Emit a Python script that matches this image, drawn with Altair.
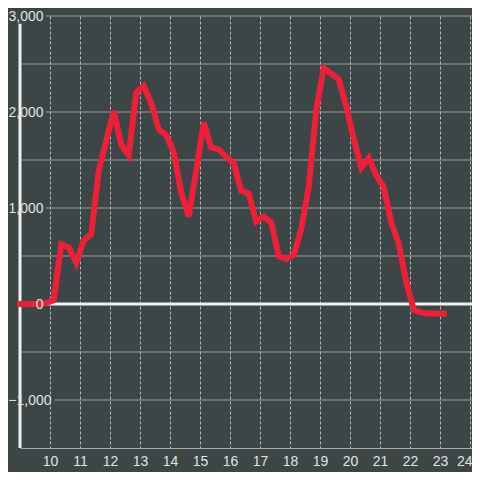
import altair as alt
import pandas as pd

# ---- data ----
hours = [9.0, 9.125, 9.375, 9.625, 9.875,
         10.125, 10.375, 10.625, 10.875,
         11.125, 11.375, 11.625, 11.875,
         12.125, 12.375, 12.625, 12.875,
         13.125, 13.375, 13.625, 13.875,
         14.125, 14.375, 14.625, 14.875,
         15.125, 15.375, 15.625, 15.875,
         16.125, 16.375, 16.625, 16.875,
         17.125, 17.375, 17.625, 17.875,
         18.125, 18.375, 18.625, 18.875,
         19.125, 19.375, 19.625, 19.875,
         20.125, 20.375, 20.625, 20.875,
         21.125, 21.375, 21.625, 21.875,
         22.125, 22.375, 22.625, 22.875,
         23.125]
values = [0, 0, 0, 0, 10,
          40, 620, 590, 430,
          660, 730, 1390, 1700,
          2010, 1660, 1550, 2200,
          2270, 2090, 1820, 1760,
          1580, 1160, 910, 1390,
          1890, 1630, 1610, 1530,
          1470, 1180, 1150, 860,
          910, 850, 500, 470,
          510, 780, 1220, 2020,
          2460, 2400, 2340, 2060,
          1720, 1420, 1520, 1340,
          1220, 850, 630, 230,
          -60, -90, -100, -100,
          -100]

x_ticks = list(range(10, 25))
y_label_values = [-1000, 0, 1000, 2000, 3000]
grid_values = [-1000, 1000, 2000, 3000, -500, 500, 1500, 2500]
x_domain = [9.0, 24.0667]
y_domain = [-1500, 3000]

# ---- styles ----
BG = "#3d4646"
RED = "#ee1f36"
WHITE = "#eef1ee"
GRID = "#9c9c9c"
DASH = "#b8b8b8"
TEXT = "#e2e2e2"
FONT = "Liberation Sans"
grid_starts = [10.15, 9.87, 9.87, 9.87, 9.07, 9.07, 9.07, 9.07]
axis_top = 2920

df = pd.DataFrame({"hour": hours, "value": values})
grid_df = pd.DataFrame({
    "y": grid_values,
    "x0": grid_starts,
    "x1": [x_domain[1]] * len(grid_values),
})
zero_df = pd.DataFrame({"y": [0], "x0": [x_domain[0]], "x1": [x_domain[1]]})
yaxis_df = pd.DataFrame({"x": [x_domain[0]], "y0": [y_domain[0]], "y1": [axis_top]})

xs = alt.Scale(domain=x_domain, nice=False, zero=False)
ys = alt.Scale(domain=y_domain, nice=False, zero=False)

x_axis = alt.Axis(values=x_ticks, grid=True, gridDash=[3, 2],
                  gridColor=DASH, gridWidth=1,
                  domain=True, domainColor="#a8a8a8", domainWidth=1,
                  ticks=False, labelPadding=6, labelColor=TEXT,
                  labelFont=FONT, labelFontSize=14, labelFlush=False,
                  labelAlign={"condition": {"test": "datum.value >= 24", "value": "right"},
                              "value": "center"},
                  labelOffset={"condition": {"test": "datum.value >= 24", "value": 2},
                               "value": 0},
                  labelOverlap=False, title=None, zindex=0)
y_axis = alt.Axis(values=y_label_values, format=",d", grid=False,
                  domain=False, ticks=False,
                  labelPadding={"condition": {"test": "datum.value < 0", "value": -8},
                                "value": 0},
                  offset=-23, labelColor=TEXT, labelFont=FONT,
                  labelFontSize=14, labelOverlap=False, title=None,
                  zindex=1)

grid_rules = alt.Chart(grid_df).mark_rule(color=GRID, strokeWidth=1).encode(
    x=alt.X("x0:Q", scale=xs, axis=x_axis),
    x2="x1:Q",
    y=alt.Y("y:Q", scale=ys, axis=y_axis),
)

zero_rule = alt.Chart(zero_df).mark_rule(color=WHITE, strokeWidth=3).encode(
    x=alt.X("x0:Q", scale=xs, axis=x_axis),
    x2="x1:Q",
    y=alt.Y("y:Q", scale=ys, axis=y_axis),
)

yaxis_rule = alt.Chart(yaxis_df).mark_rule(color=WHITE, strokeWidth=3).encode(
    x=alt.X("x:Q", scale=xs, axis=x_axis),
    y=alt.Y("y0:Q", scale=ys, axis=y_axis),
    y2="y1:Q",
)

line = alt.Chart(df).mark_line(color=RED, strokeWidth=6, strokeCap="square",
                               strokeJoin="miter").encode(
    x=alt.X("hour:Q", scale=xs, axis=x_axis),
    y=alt.Y("value:Q", scale=ys, axis=y_axis),
)

chart = alt.layer(grid_rules, zero_rule, yaxis_rule, line).properties(
    width=452,
    height=432,
    padding={"left": 12, "top": 8, "right": 0, "bottom": 24},
    autosize=alt.AutoSizeParams(type="none"),
    background=BG,
).configure_view(stroke=None)

chart.save("out.html", embed_options={"renderer": "svg", "actions": False})
